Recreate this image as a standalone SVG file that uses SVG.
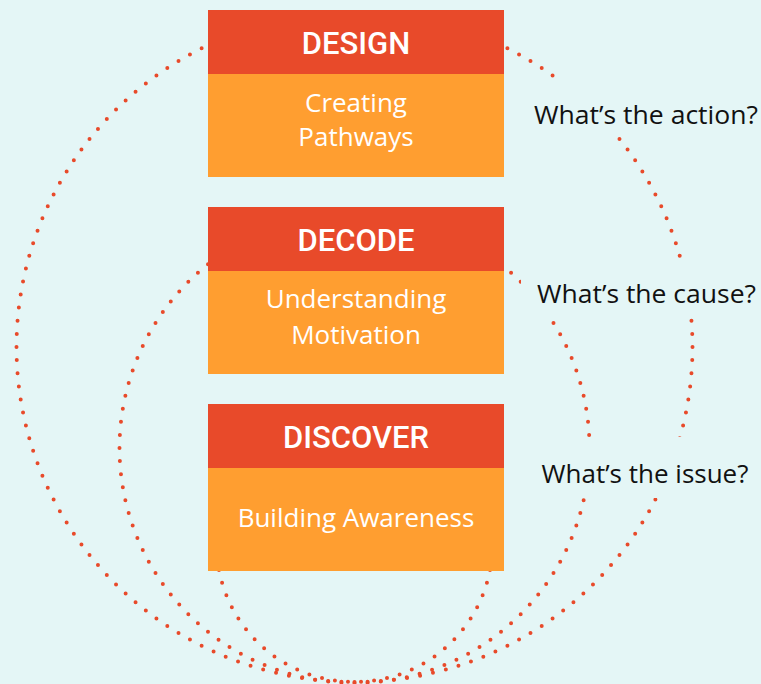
<svg xmlns="http://www.w3.org/2000/svg" width="761" height="684" viewBox="0 0 761 684">
  <style>
    .bg { fill: #E4F6F6; }
    .ring { fill: none; stroke: #E84A2A; stroke-width: 4; stroke-linecap: round; stroke-dasharray: 0 1; }
    .head { fill: #E84A2A; }
    .body { fill: #FF9E30; }
    .htxt { font-family: Roboto, "Liberation Sans", sans-serif; font-weight: 500; font-size: 31px; fill: #FFFFFF; text-anchor: middle; }
    .btxt { font-family: "Open Sans", "Noto Sans", "Liberation Sans", sans-serif; font-weight: 400; font-size: 26px; fill: #FFFFFF; text-anchor: middle; }
    .ltxt { font-family: "Open Sans", "Noto Sans", "Liberation Sans", sans-serif; font-weight: 400; font-size: 26px; fill: #111111; text-anchor: middle; }
    .lbg { fill: #E4F6F6; }
  </style>
  <rect class="bg" x="0" y="0" width="761" height="684"/>

  <g id="connectors">
    <ellipse class="ring" cx="354.5" cy="347" rx="338" ry="335" pathLength="160"/>
    <circle class="ring" cx="354.5" cy="448" r="235" pathLength="112"/>
    <circle class="ring" cx="354.5" cy="544" r="138" pathLength="66"/>
  </g>

  <g id="design">
    <rect class="head" x="208" y="10" width="296" height="64"/>
    <rect class="body" x="208" y="74" width="296" height="103"/>
    <text class="htxt" x="356" y="54">DESIGN</text>
    <text class="btxt" x="356" y="112">Creating</text>
    <text class="btxt" x="356" y="146">Pathways</text>
  </g>

  <g id="decode">
    <rect class="head" x="208" y="207" width="296" height="64"/>
    <rect class="body" x="208" y="271" width="296" height="103"/>
    <text class="htxt" x="356" y="251">DECODE</text>
    <text class="btxt" x="356" y="308">Understanding</text>
    <text class="btxt" x="356" y="344">Motivation</text>
  </g>

  <g id="discover">
    <rect class="head" x="208" y="404" width="296" height="64"/>
    <rect class="body" x="208" y="468" width="296" height="103"/>
    <text class="htxt" x="356" y="448">DISCOVER</text>
    <text class="btxt" x="356" y="527">Building Awareness</text>
  </g>

  <g id="label-action">
    <rect class="lbg" x="522" y="79" width="239" height="58"/>
    <text class="ltxt" x="646" y="124" textLength="224" lengthAdjust="spacingAndGlyphs">What’s the action?</text>
  </g>

  <g id="label-cause">
    <rect class="lbg" x="521" y="262" width="240" height="56"/>
    <text class="ltxt" x="646.5" y="303" textLength="219" lengthAdjust="spacingAndGlyphs">What’s the cause?</text>
  </g>

  <g id="label-issue">
    <rect class="lbg" x="530" y="437" width="231" height="61"/>
    <text class="ltxt" x="645" y="483">What’s the issue?</text>
  </g>
</svg>
